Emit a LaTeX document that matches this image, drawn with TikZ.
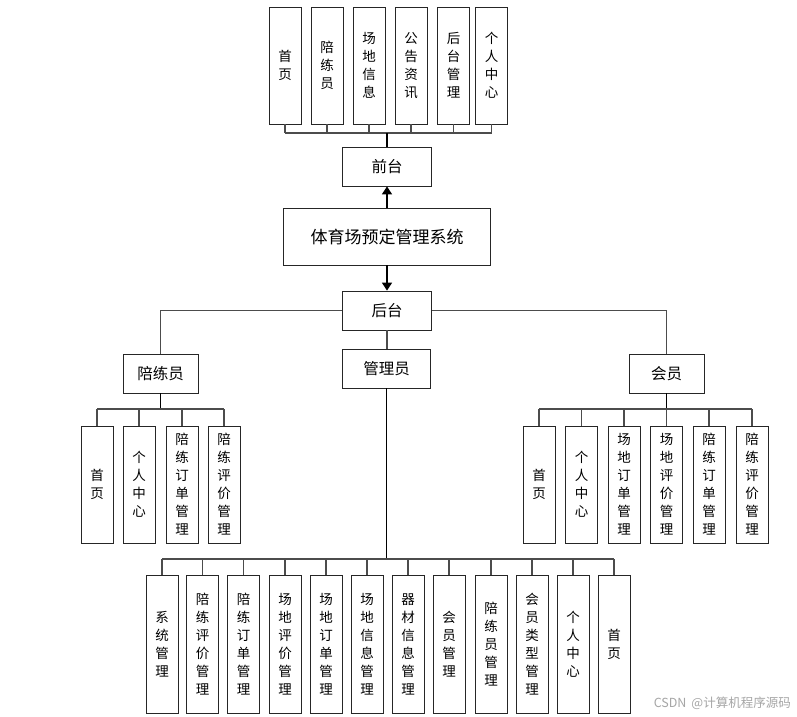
\documentclass[tikz,border=0pt]{standalone}
\usepackage{fontspec}
\setmainfont{Noto Sans CJK SC}
\usetikzlibrary{arrows.meta}
\tikzset{
  box/.style={draw=black!85, line width=0.8pt, fill=white, inner sep=0pt, align=center, font=\fontsize{13.5}{18}\selectfont},
  vb/.style={box, minimum width=32, minimum height=117},
  bb/.style={box, minimum width=32, minimum height=138},
  hb/.style={box, minimum width=89, minimum height=39, font=\fontsize{15.5}{18}\selectfont},
  ln/.style={draw=black!70, line width=1.1pt},
  trunk/.style={draw=black, line width=1.8pt},
  arr/.style={draw=black, line width=1.4pt, -{Triangle[length=8pt,width=10pt]}}
}
\begin{document}
\begin{tikzpicture}[x=1pt,y=-1pt]
\useasboundingbox[fill=white] (0,0) rectangle (797,716);
% top
\node[vb] (t1) at (285,65.5) {首\\页};
\node[vb] (t2) at (327,65.5) {陪\\练\\员};
\node[vb] (t3) at (369,65.5) {场\\地\\信\\息};
\node[vb] (t4) at (411,65.5) {公\\告\\资\\讯};
\node[vb] (t5) at (453.5,65.5) {后\\台\\管\\理};
\node[vb] (t6) at (491.5,65.5) {个\\人\\中\\心};
\node[hb] (qt) at (387,166.5) {前台};
\node[box, minimum width=207, minimum height=57, font=\fontsize{17}{20}\selectfont] (sys) at (387,236.5) {体育场预定管理系统};
\node[hb] (ht) at (387,310.5) {后台};
\node[box, minimum width=75, minimum height=39, font=\fontsize{15.5}{18}\selectfont] (pl) at (160.5,373.5) {陪练员};
\node[box, minimum width=75, minimum height=39, font=\fontsize{15.5}{18}\selectfont] (hy) at (666.5,373.5) {会员};
\node[box, minimum width=88, minimum height=39, font=\fontsize{15.5}{18}\selectfont] (gly) at (386.5,368.5) {管理员};
% left subs
\node[vb] (l1) at (97,484.5) {首\\页};
\node[vb] (l2) at (139,484.5) {个\\人\\中\\心};
\node[vb] (l3) at (182,484.5) {陪\\练\\订\\单\\管\\理};
\node[vb] (l4) at (224,484.5) {陪\\练\\评\\价\\管\\理};
% right subs
\node[vb] (r1) at (539,484.5) {首\\页};
\node[vb] (r2) at (581.5,484.5) {个\\人\\中\\心};
\node[vb] (r3) at (624,484.5) {场\\地\\订\\单\\管\\理};
\node[vb] (r4) at (666.5,484.5) {场\\地\\评\\价\\管\\理};
\node[vb] (r5) at (709,484.5) {陪\\练\\订\\单\\管\\理};
\node[vb] (r6) at (752,484.5) {陪\\练\\评\\价\\管\\理};
% bottom subs
\node[bb] (b1) at (162,644) {系\\统\\管\\理};
\node[bb] (b2) at (202.5,644) {陪\\练\\评\\价\\管\\理};
\node[bb] (b3) at (243.5,644) {陪\\练\\订\\单\\管\\理};
\node[bb] (b4) at (285,644) {场\\地\\评\\价\\管\\理};
\node[bb] (b5) at (326,644) {场\\地\\订\\单\\管\\理};
\node[bb] (b6) at (367,644) {场\\地\\信\\息\\管\\理};
\node[bb] (b7) at (408,644) {器\\材\\信\\息\\管\\理};
\node[bb] (b8) at (449,644) {会\\员\\管\\理};
\node[bb] (b9) at (491,644) {陪\\练\\员\\管\\理};
\node[bb] (b10) at (532,644) {会\\员\\类\\型\\管\\理};
\node[bb] (b11) at (573,644) {个\\人\\中\\心};
\node[bb] (b12) at (614,644) {首\\页};
% bus coordinates
\coordinate (tbus) at (0,133);
\coordinate (sbus) at (0,409);
\coordinate (bbus) at (0,559);
% top connectors
\foreach \n in {t1,t2,t3,t4,t5,t6} \draw[ln] (\n.south) -- (\n.south |- tbus);
\draw[ln] (t1.south |- tbus) -- (t6.south |- tbus);
\draw[trunk] (qt.north |- tbus) -- (qt.north);
\draw[arr] (sys.north) -- (qt.south);
\draw[arr] (sys.south) -- (ht.north);
% back end
\draw[ln] (ht.west) -- (pl.north |- ht.west) -- (pl.north);
\draw[ln] (ht.east) -- (hy.north |- ht.east) -- (hy.north);
\draw[ln] (ht.south) -- (gly.north -| ht.south);
% left group
\draw[trunk] (pl.south) -- (pl.south |- sbus);
\draw[ln] (l1.north |- sbus) -- (l4.north |- sbus);
\foreach \n in {l1,l2,l3,l4} \draw[ln] (\n.north |- sbus) -- (\n.north);
% right group
\draw[trunk] (hy.south) -- (hy.south |- sbus);
\draw[ln] (r1.north |- sbus) -- (r6.north |- sbus);
\foreach \n in {r1,r2,r3,r4,r5,r6} \draw[ln] (\n.north |- sbus) -- (\n.north);
% bottom group
\draw[trunk] (gly.south) -- (gly.south |- bbus);
\draw[ln] (b1.north |- bbus) -- (b12.north |- bbus);
\foreach \n in {b1,b2,b3,b4,b5,b6,b7,b8,b9,b10,b11,b12} \draw[ln] (\n.north |- bbus) -- (\n.north);
% watermark
\node[anchor=east, text=black!35, inner sep=0pt, font=\fontsize{12.5}{14}\selectfont] (wm) at (791,703) {CSDN\hspace{5pt}@计算机程序源码};
\end{tikzpicture}
\end{document}
